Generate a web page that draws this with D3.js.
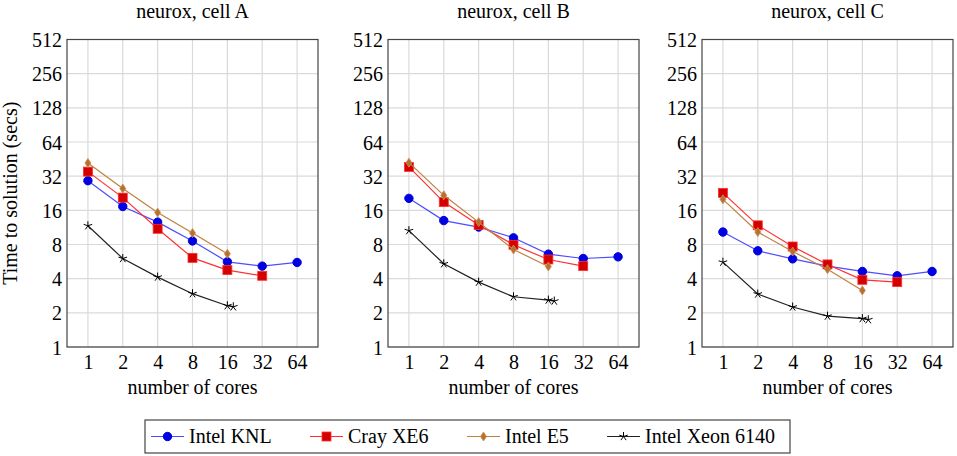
<!DOCTYPE html>
<html>
<head>
<meta charset="utf-8">
<script src="https://cdn.jsdelivr.net/npm/d3@7"></script>
<style>
  body { margin: 0; background: #fff; }
  svg text { font-family: "Liberation Serif", "Times New Roman", Times, "DejaVu Serif", serif !important; fill: #000; }
</style>
</head>
<body>
<div id="plot"></div>
<script>
const WIDTH = 957;
const HEIGHT = 456;

const TITLES = ["neurox, cell A", "neurox, cell B", "neurox, cell C"];
const Y_TICKS = [1, 2, 4, 8, 16, 32, 64, 128, 256, 512];
const X_TICKS = [1, 2, 4, 8, 16, 32, 64];

const KNL_CORES = [1, 2, 4, 8, 16, 32, 64];
const CRAY_CORES = [1, 2, 4, 8, 16, 32];
const E5_CORES = [1, 2, 4, 8, 16];
const XEON_CORES = [1, 2, 4, 8, 16, 18];

const knlA = [29.2, 17.3, 12.6, 8.6, 5.63, 5.16, 5.56];
const crayA = [35.1, 20.7, 11.0, 6.1, 4.76, 4.24];
const e5A = [41.8, 24.9, 15.3, 10.1, 6.62];
const xeonA = [11.7, 6.02, 4.13, 2.95, 2.31, 2.26];

const knlB = [20.4, 13.0, 11.4, 9.16, 6.58, 6.02, 6.23];
const crayB = [38.6, 18.9, 11.9, 7.95, 5.9, 5.16];
const e5B = [42.1, 21.7, 12.6, 7.23, 5.12];
const xeonB = [10.6, 5.41, 3.73, 2.77, 2.59, 2.54];

const knlC = [10.3, 7.04, 5.98, 5.16, 4.63, 4.24, 4.63];
const crayC = [22.8, 11.8, 7.68, 5.34, 3.91, 3.73];
const e5C = [20.0, 10.3, 6.94, 4.85, 3.15];
const xeonC = [5.59, 2.93, 2.25, 1.87, 1.78, 1.74];

const SERIES_NAMES = ["Intel KNL", "Cray XE6", "Intel E5", "Intel Xeon 6140"];

// style per series: line colour, marker fill, marker kind
const STYLES = [
  {line: "#4d4dff", fill: "#0000e0", stroke: "#0000e0", mark: "circle"},
  {line: "#ff3030", fill: "#d40000", stroke: "#ff3030", mark: "square"},
  {line: "#bf8040", fill: "#b8702c", stroke: "#c8905a", mark: "diamond"},
  {line: "#222222", fill: "none", stroke: "#000000", mark: "star"}
];

const cores = [KNL_CORES, CRAY_CORES, E5_CORES, XEON_CORES];
const cells = [
  [knlA, crayA, e5A, xeonA],
  [knlB, crayB, e5B, xeonB],
  [knlC, crayC, e5C, xeonC]
];

const PANEL_LEFT = [67, 388, 702];
const PANEL_W = 251;
const TOP = 39.5;
const BOTTOM = 347;
const FONT = "'Liberation Serif', 'Times New Roman', Times, 'DejaVu Serif', serif";

const svg = d3.select("#plot")
  .append("svg")
    .attr("width", WIDTH)
    .attr("height", HEIGHT)
    .attr("font-family", FONT);

const Y_SCALE = d3.scaleLog().base(2).domain([1, 512]).range([BOTTOM, TOP]);

function starPath(r) {
  let p = "";
  for (let i = 0; i < 5; i++) {
    const a = -Math.PI / 2 + i * 2 * Math.PI / 5;
    p += "M0,0L" + (r * Math.cos(a)).toFixed(2) + "," + (r * Math.sin(a)).toFixed(2);
  }
  return p;
}

function drawMark(g, kind, st, x, y) {
  if (kind === "circle") {
    g.append("circle").attr("cx", x).attr("cy", y).attr("r", 4.2)
      .attr("fill", st.fill).attr("stroke", st.fill);
  } else if (kind === "square") {
    g.append("rect").attr("x", x - 4.5).attr("y", y - 4.5)
      .attr("width", 9).attr("height", 9)
      .attr("fill", st.fill).attr("stroke", st.stroke).attr("stroke-width", 0.8);
  } else if (kind === "diamond") {
    g.append("path")
      .attr("d", "M0,-4.5L3,0L0,4.5L-3,0Z")
      .attr("transform", "translate(" + x + "," + y + ")")
      .attr("fill", st.fill).attr("stroke", st.stroke).attr("stroke-width", 0.8);
  } else {
    g.append("path")
      .attr("d", starPath(4.5))
      .attr("transform", "translate(" + x + "," + y + ")")
      .attr("fill", "none").attr("stroke", st.stroke).attr("stroke-width", 1);
  }
}

TITLES.forEach((title, p) => {
  const left = PANEL_LEFT[p];
  const X_SCALE = d3.scaleLog().base(2)
    .domain([Math.pow(2, -0.6), Math.pow(2, 6.6)])
    .range([left, left + PANEL_W]);

  const g = svg.append("g");

  // grid
  g.selectAll(".gx").data(X_TICKS).enter().append("line")
    .attr("x1", d => X_SCALE(d)).attr("x2", d => X_SCALE(d))
    .attr("y1", TOP).attr("y2", BOTTOM)
    .attr("stroke", "#dadada").attr("stroke-width", 1.2);
  g.selectAll(".gy").data(Y_TICKS).enter().append("line")
    .attr("x1", left).attr("x2", left + PANEL_W)
    .attr("y1", d => Y_SCALE(d)).attr("y2", d => Y_SCALE(d))
    .attr("stroke", "#dadada").attr("stroke-width", 1.2);

  // tick labels via d3 axes
  const yAxis = g.append("g")
    .attr("transform", "translate(" + left + ",0)")
    .call(d3.axisLeft(Y_SCALE).tickValues(Y_TICKS).tickFormat(d3.format("d")).tickSize(0).tickPadding(5))
    .attr("font-family", FONT).attr("font-size", "20px");
  yAxis.select(".domain").remove();
  yAxis.selectAll("text").attr("dy", "0.35em");

  const xAxis = g.append("g")
    .attr("transform", "translate(0," + BOTTOM + ")")
    .call(d3.axisBottom(X_SCALE).tickValues(X_TICKS).tickFormat(d3.format("d")).tickSize(0).tickPadding(8))
    .attr("font-family", FONT).attr("font-size", "20px");
  xAxis.select(".domain").remove();

  // frame
  g.append("rect")
    .attr("x", left).attr("y", TOP)
    .attr("width", PANEL_W).attr("height", BOTTOM - TOP)
    .attr("fill", "none").attr("stroke", "#444").attr("stroke-width", 1.2);

  // title and x label
  g.append("text")
    .attr("x", left + PANEL_W / 2).attr("y", 18)
    .attr("text-anchor", "middle").attr("font-size", "20px")
    .text(title);
  g.append("text")
    .attr("x", left + PANEL_W / 2).attr("y", 394)
    .attr("text-anchor", "middle").attr("font-size", "20px")
    .text("number of cores");

  // series
  cells[p].forEach((vals, s) => {
    const st = STYLES[s];
    const pts = vals.map((v, i) => [cores[s][i], v]);
    g.append("path")
      .datum(pts)
      .attr("fill", "none")
      .attr("stroke", st.line)
      .attr("stroke-width", 1.2)
      .attr("d", d3.line().x(d => X_SCALE(d[0])).y(d => Y_SCALE(d[1])));
    pts.forEach(d => drawMark(g, st.mark, st, X_SCALE(d[0]), Y_SCALE(d[1])));
  });
});

// y label
svg.append("text")
  .attr("transform", "translate(17," + ((TOP + BOTTOM) / 2) + ") rotate(-90)")
  .attr("text-anchor", "middle").attr("font-size", "20px")
  .text("Time to solution (secs)");

// legend
const LEGEND_X = [151, 310, 467, 607];
const leg = svg.append("g");
leg.append("rect")
  .attr("x", 145).attr("y", 420).attr("width", 645).attr("height", 33)
  .attr("fill", "#fff").attr("stroke", "#444").attr("stroke-width", 1.2);
SERIES_NAMES.forEach((name, s) => {
  const st = STYLES[s];
  const x0 = LEGEND_X[s];
  leg.append("line")
    .attr("x1", x0).attr("x2", x0 + 33).attr("y1", 436.5).attr("y2", 436.5)
    .attr("stroke", st.line).attr("stroke-width", 1.2);
  drawMark(leg, st.mark, st, x0 + 16.5, 436.5);
  leg.append("text")
    .attr("x", x0 + 38).attr("y", 443)
    .attr("font-size", "20px")
    .text(name);
});
</script>
</body>
</html>
